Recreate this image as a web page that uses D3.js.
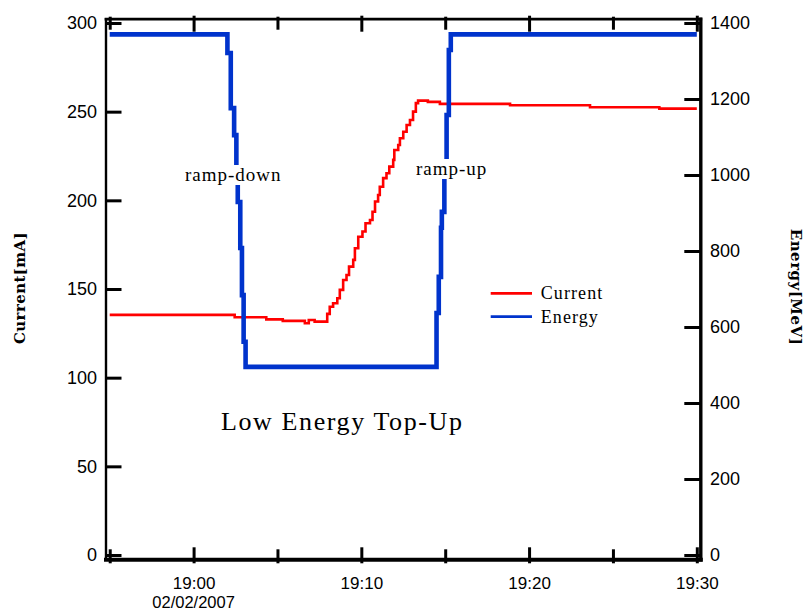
<!DOCTYPE html>
<html>
<head>
<meta charset="utf-8">
<script src="https://cdn.jsdelivr.net/npm/d3@7"></script>
<style>
  body { margin: 0; background: #fff; }
  svg { display: block; }
</style>
</head>
<body>
<svg id="chart" width="809" height="613"></svg>
<script>
// Beam current [mA] samples (value holds until the next time stamp)
const currentTimes = [
  "18:55:00", "19:02:27", "19:04:20", "19:05:19", "19:06:38", "19:06:52", "19:07:13",
  "19:07:58", "19:08:07", "19:08:19", "19:08:34", "19:08:43", "19:08:55", "19:09:07",
  "19:09:16", "19:09:31", "19:09:37", "19:09:49", "19:10:04", "19:10:15", "19:10:31",
  "19:10:40", "19:10:49", "19:11:00", "19:11:06", "19:11:18", "19:11:30", "19:11:40",
  "19:11:54", "19:11:58", "19:12:12", "19:12:18", "19:12:30", "19:12:42", "19:12:54",
  "19:13:05", "19:13:15", "19:13:23", "19:13:58", "19:14:41", "19:18:52", "19:23:38",
  "19:27:46", "19:30:00"
];
const currentValues = [
  135.4, 134.1, 132.9, 132.0, 130.7, 132.5, 131.6,
  136.0, 140.0, 142.0, 144.8, 149.5, 155.1, 157.9,
  162.6, 166.4, 173.0, 179.5, 182.4, 187.1, 188.9,
  193.6, 199.3, 203.0, 207.7, 212.5, 215.3, 219.0,
  222.8, 228.4, 231.2, 235.0, 238.7, 242.5, 245.3,
  250.0, 254.8, 256.2, 255.5, 254.4, 253.6, 252.5,
  251.7, 251.7
];

// Beam energy [MeV] samples (value holds until the next time stamp)
const energyTimes = [
  "18:55:00", "19:02:01", "19:02:13", "19:02:25", "19:02:33", "19:02:38", "19:02:47",
  "19:02:53", "19:02:59", "19:03:06", "19:14:29", "19:14:37", "19:14:45", "19:14:48",
  "19:14:57", "19:15:05", "19:15:13", "19:15:20", "19:30:00"
];
const energyValues = [
  1370, 1321, 1176, 1105, 1013, 929, 808,
  684, 561, 495, 637, 732, 861, 903,
  1013, 1158, 1329, 1370, 1370
];

const currentTicks = [0, 50, 100, 150, 200, 250, 300];
const energyTicks = [0, 200, 400, 600, 800, 1000, 1200, 1400];
const majorTimeTicks = ["19:00", "19:10", "19:20", "19:30"];
const minorTimeTicks = ["18:55", "19:05", "19:15", "19:25"];
const dateLabel = "02/02/2007";
const seriesNames = ["Current", "Energy"];
const annotationTexts = ["ramp-down", "ramp-up"];
const titleText = "Low Energy Top-Up";

const parseHMS = d3.timeParse("%H:%M:%S");
const parseHM = d3.timeParse("%H:%M");

const svg = d3.select("#chart");
const L = 105.5, R = 700.3, T = 18.7, B = 559.3;
const RED = "#ff0000", BLUE = "#0033cc";

const t19 = parseHMS("19:00:00");
const x = d3.scaleTime()
  .domain([new Date(+t19 - 315100), new Date(+t19 + 1812500)])
  .range([L, R]);
const yL = d3.scaleLinear().domain([-2.42, 302.42]).range([B, T]);
const yR = d3.scaleLinear().domain([-11.3, 1411.3]).range([B, T]);

const currentData = currentTimes.map((t, i) => ({ t: parseHMS(t), v: currentValues[i] }));
const energyData = energyTimes.map((t, i) => ({ t: parseHMS(t), v: energyValues[i] }));

// --- series ---
const lineCurrent = d3.line().x(d => x(d.t)).y(d => yL(d.v)).curve(d3.curveStepAfter);
const lineEnergy = d3.line().x(d => x(d.t)).y(d => yR(d.v)).curve(d3.curveStepAfter);

svg.append("path").datum(currentData)
  .attr("d", lineCurrent).attr("fill", "none")
  .attr("stroke", RED).attr("stroke-width", 2.6);
svg.append("path").datum(energyData)
  .attr("d", lineEnergy).attr("fill", "none")
  .attr("stroke", BLUE).attr("stroke-width", 4.6);

// --- axes ---
function styleAxis(g, domainWidth) {
  g.select(".domain").attr("stroke-width", domainWidth).attr("stroke-linecap", "square");
  g.selectAll(".tick line").attr("stroke-width", 3);
  g.selectAll(".tick text").attr("fill", "#000");
  g.attr("font-family", "'Liberation Sans', Arial, sans-serif");
}

const fmtHM = d3.timeFormat("%H:%M");
const majorDates = majorTimeTicks.map(parseHM);
const minorDates = minorTimeTicks.map(parseHM);

// bottom
const gB = svg.append("g").attr("transform", `translate(0,${B})`)
  .call(d3.axisBottom(x).tickValues(majorDates).tickFormat(fmtHM)
    .tickSizeInner(-12).tickSizeOuter(0).tickPadding(18));
styleAxis(gB, 4);
gB.attr("font-size", 17);
gB.selectAll(".tick line").attr("y1", 4);
const gBm = svg.append("g").attr("transform", `translate(0,${B})`)
  .call(d3.axisBottom(x).tickValues(minorDates).tickFormat("")
    .tickSizeInner(-10).tickSizeOuter(0));
gBm.select(".domain").remove();
gBm.selectAll(".tick line").attr("stroke-width", 3).attr("y1", 4);

svg.append("text")
  .attr("x", x(parseHM("19:00"))).attr("y", 608)
  .attr("text-anchor", "middle")
  .attr("font-family", "'Liberation Sans', Arial, sans-serif")
  .attr("font-size", 16.5)
  .text(dateLabel);

// top
const gT = svg.append("g").attr("transform", `translate(0,${T})`)
  .call(d3.axisTop(x).tickValues(majorDates).tickFormat("")
    .tickSizeInner(-13).tickSizeOuter(0));
styleAxis(gT, 2.7);
gT.selectAll(".tick line").attr("y1", -3);
const gTm = svg.append("g").attr("transform", `translate(0,${T})`)
  .call(d3.axisTop(x).tickValues(minorDates).tickFormat("")
    .tickSizeInner(-11).tickSizeOuter(0));
gTm.select(".domain").remove();
gTm.selectAll(".tick line").attr("stroke-width", 3).attr("y1", -2);

// left
const gL = svg.append("g").attr("transform", `translate(${L},0)`)
  .call(d3.axisLeft(yL).tickValues(currentTicks).tickFormat(d3.format("d"))
    .tickSizeInner(-16).tickSizeOuter(0).tickPadding(8.5));
styleAxis(gL, 2.4);
gL.attr("font-size", 18);

// right
const gR = svg.append("g").attr("transform", `translate(${R},0)`)
  .call(d3.axisRight(yR).tickValues(energyTicks).tickFormat(d3.format("d"))
    .tickSizeInner(-16).tickSizeOuter(0).tickPadding(9.7));
styleAxis(gR, 3.4);
gR.attr("font-size", 18);

// axis titles
svg.append("text")
  .attr("transform", "translate(25,288) rotate(-90)")
  .attr("text-anchor", "middle")
  .attr("font-family", "'DejaVu Serif', serif")
  .attr("font-size", 15).attr("font-weight", "bold").attr("letter-spacing", 0.4)
  .text("Current[mA]");
svg.append("text")
  .attr("transform", "translate(791,287) rotate(90)")
  .attr("text-anchor", "middle")
  .attr("font-family", "'DejaVu Serif', serif")
  .attr("font-size", 15).attr("font-weight", "bold").attr("letter-spacing", 0.5)
  .text("Energy[MeV]");

// annotations with white backing
const annX = [185, 416];
const annY = [181, 175];
annotationTexts.forEach((s, i) => {
  const g = svg.append("g");
  const rect = g.append("rect").attr("fill", "#fff");
  const txt = g.append("text")
    .attr("x", annX[i]).attr("y", annY[i])
    .attr("font-family", "'Liberation Serif', 'Times New Roman', serif")
    .attr("font-size", 19).attr("letter-spacing", 1)
    .text(s);
  const bb = txt.node().getBBox();
  rect.attr("x", bb.x - 1).attr("y", bb.y + 1)
    .attr("width", bb.width + 2).attr("height", bb.height - 1);
});

svg.append("text")
  .attr("x", 221).attr("y", 430)
  .attr("font-family", "'Liberation Serif', 'Times New Roman', serif")
  .attr("font-size", 26).attr("letter-spacing", 1.6)
  .text(titleText);

// legend
const legColors = [RED, BLUE];
const legY = [293.3, 316.7];
seriesNames.forEach((name, i) => {
  svg.append("line")
    .attr("x1", 490.7).attr("x2", 532)
    .attr("y1", legY[i]).attr("y2", legY[i])
    .attr("stroke", legColors[i]).attr("stroke-width", 2.8);
  svg.append("text")
    .attr("x", 540.7).attr("y", legY[i] + 6)
    .attr("font-family", "'Liberation Serif', 'Times New Roman', serif")
    .attr("font-size", 18).attr("letter-spacing", 1.1)
    .text(name);
});
</script>
</body>
</html>
